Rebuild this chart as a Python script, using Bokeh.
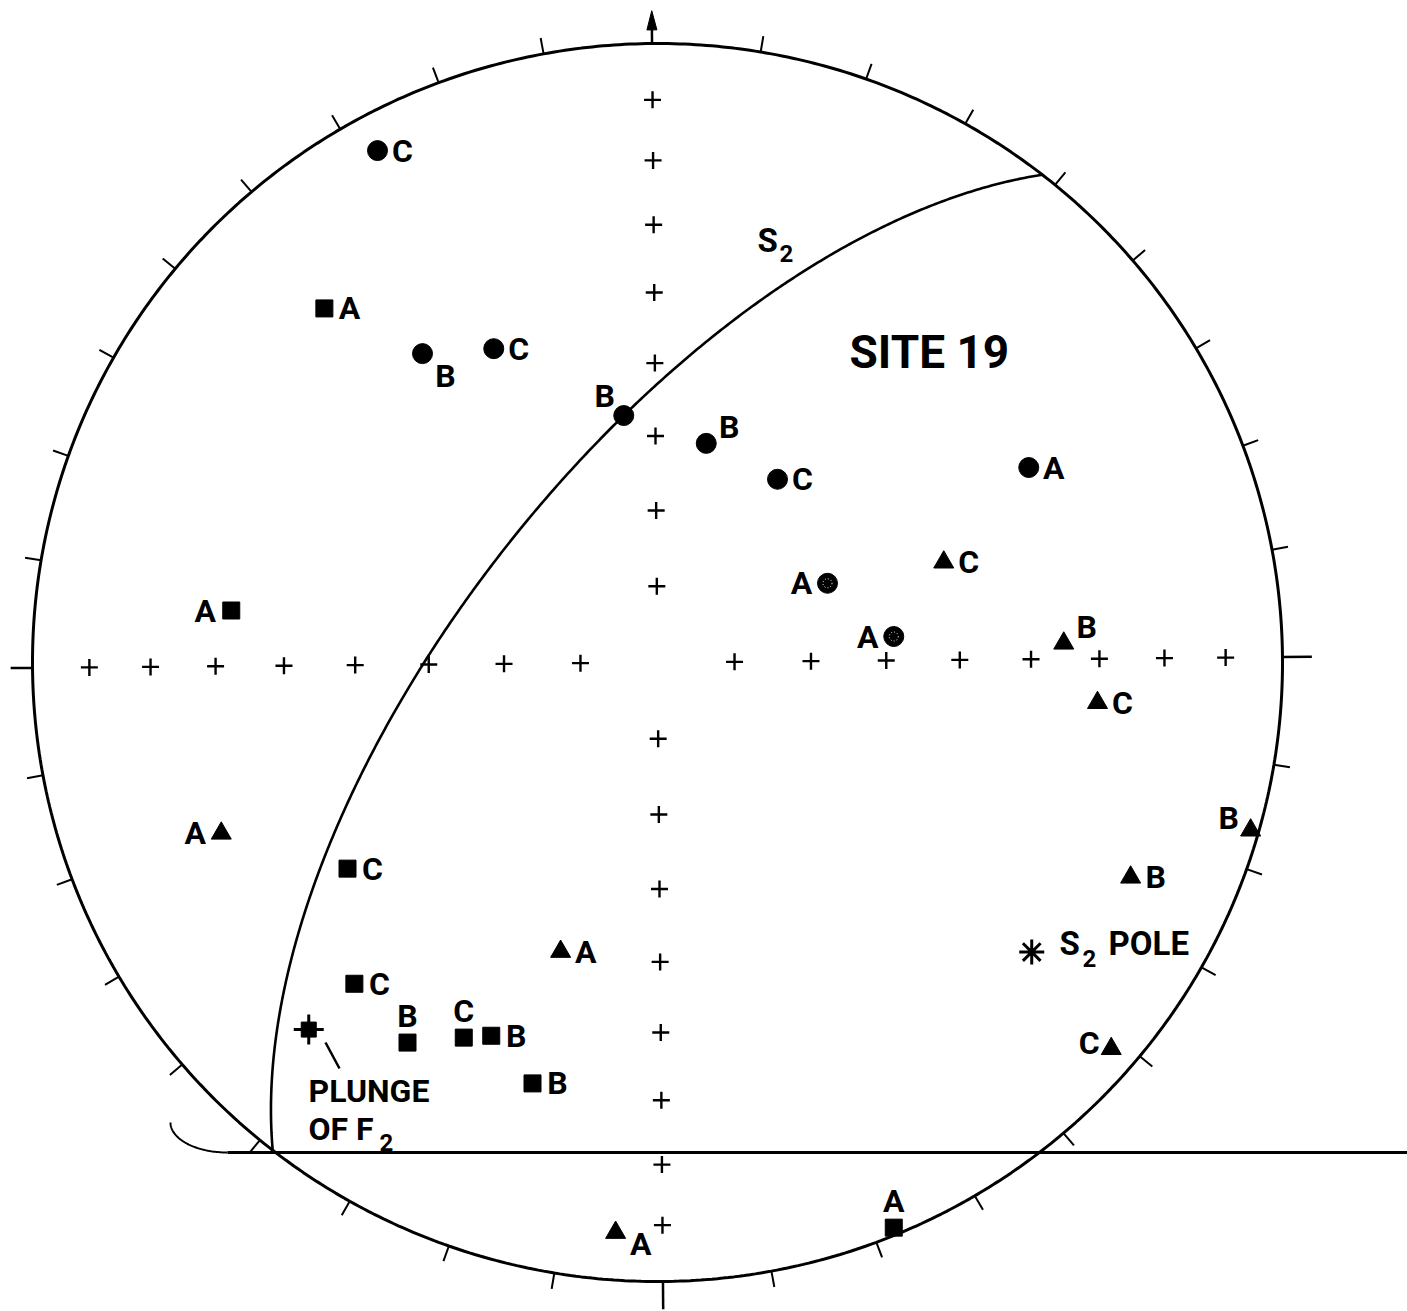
import numpy as np
from bokeh.plotting import figure
from bokeh.models import Range1d, ColumnDataSource
from bokeh.core.properties import value
from bokeh.embed import file_html
from bokeh.resources import INLINE

# ---------------- data (equal-area net coordinates, unit radius; x = east, y = north)
circle_x = [-0.448, -0.376, -0.262, -0.054, 0.078, 0.192, 0.594, 0.272, 0.378]
circle_y = [0.827, 0.499, 0.507, 0.399, 0.354, 0.296, 0.315, 0.128, 0.042]
circle_lab = ["C", "B", "C", "B", "B", "C", "A", "A", "A"]
circle_dotted = [False, False, False, False, False, False, False, True, True]

square_x = [-0.533, -0.682, -0.496, -0.485, -0.400, -0.310, -0.266, -0.200, 0.378]
square_y = [0.572, 0.084, -0.333, -0.519, -0.614, -0.606, -0.603, -0.680, -0.913]
square_lab = ["A", "A", "C", "C", "B", "C", "B", "B", "A"]

tri_x = [0.458, 0.650, 0.704, -0.698, 0.949, 0.757, -0.155, 0.726, -0.067]
tri_y = [0.162, 0.031, -0.065, -0.276, -0.271, -0.347, -0.467, -0.624, -0.921]
tri_lab = ["C", "B", "C", "A", "B", "B", "A", "C", "A"]

# S2 plane (dip direction / dip, degrees) and F2 plunge point
s2_dip_dir = 308.0
s2_dip = 65.0
f2_x = [-0.558]
f2_y = [-0.593]

net_ticks_deg = list(range(10, 360, 10))
grid_theta_deg = [10, 20, 30, 40, 50, 60, 70, 80]

# ---------------- label placement (styling: pixel offsets of letter centre)
PL = {"r": (25, 0), "l": (-26, 0), "a": (0, -27), "br": (23, 22), "al": (-19, -20),
      "ar": (23, -16), "ul": (-22, -12), "br2": (25, 11), "lu": (-22, -6)}
circle_pl = ["r", "br", "r", "al", "ar", "r", "r", "l", "l"]
square_pl = ["r", "l", "r", "r", "a", "a", "r", "r", "a"]
tri_pl = ["r", "ar", "r", "l", "ul", "r", "r", "lu", "br2"]

ROT = np.radians(0.5)


def rot(x, y):
    x = np.asarray(x, float)
    y = np.asarray(y, float)
    return x * np.cos(ROT) - y * np.sin(ROT), x * np.sin(ROT) + y * np.cos(ROT)


FONT = value("Roboto")
SC_X, SC_Y = 625.0, 619.0
W, H = 1407, 1311
x0 = -657.0 / SC_X
y1 = 662.0 / SC_Y

p = figure(width=W, height=H, output_backend="svg", toolbar_location=None,
           x_range=Range1d(x0, x0 + W / SC_X), y_range=Range1d(y1 - H / SC_Y, y1),
           min_border=0, min_border_left=0, min_border_right=0,
           min_border_top=0, min_border_bottom=0)
p.axis.visible = False
p.grid.visible = False
p.outline_line_color = None
p.background_fill_color = "white"
p.border_fill_color = "white"

# primitive circle
t = np.linspace(0, 2 * np.pi, 721)
p.line(np.cos(t), np.sin(t), line_color="black", line_width=3)

# ticks every 10 degrees
for az in net_ticks_deg:
    a = np.radians(az)
    if az % 90 == 0:
        continue
    xs, ys = rot([np.sin(a) * 1.0, np.sin(a) * 1.026], [np.cos(a) * 1.0, np.cos(a) * 1.026])
    p.line(xs, ys, line_color="black", line_width=2)

# cardinal ticks
xs, ys = rot([1.0, 1.047], [0, 0])
p.line(xs, ys, line_color="black", line_width=2.5)
xs, ys = rot([-1.0, -1.035], [0, 0])
p.line(xs, ys, line_color="black", line_width=2.5)
xs, ys = rot([0, 0], [-1.0, -1.045])
p.line(xs, ys, line_color="black", line_width=2.5)
xs, ys = rot([0, 0], [1.0, 1.03])
p.line(xs, ys, line_color="black", line_width=2.5)
ax_, ay_ = rot([0, -0.008, 0.008], [1.053, 1.022, 1.022])
p.patch(ax_, ay_, fill_color="black", line_color="black", line_width=1)

# grid crosses on the N-S and E-W diameters (equal-area spacing)
gx, gy = [], []
for th in grid_theta_deg:
    r = np.sqrt(2) * np.sin(np.radians(th) / 2)
    gx += [r, -r, 0, 0]
    gy += [0, 0, r, -r]
gx, gy = rot(gx, gy)
p.scatter(gx, gy, marker="cross", size=17, line_color="black", line_width=2.4)

# S2 great circle (lower hemisphere, equal-area)
dd = np.radians(s2_dip_dir)
dp = np.radians(s2_dip)
s = dd - np.pi / 2
av = np.array([np.sin(s), np.cos(s), 0.0])
bv = np.array([np.cos(dp) * np.sin(dd), np.cos(dp) * np.cos(dd), np.sin(dp)])
tt = np.linspace(0, np.pi, 400)
v = np.outer(np.cos(tt), av) + np.outer(np.sin(tt), bv)
gcx = v[:, 0] / np.sqrt(1 + v[:, 2])
gcy = v[:, 1] / np.sqrt(1 + v[:, 2])
p.line(gcx, gcy, line_color="black", line_width=2.6)

# S2 pole
pt = dd + np.pi
pl = np.pi / 2 - dp
pv = np.array([np.cos(pl) * np.sin(pt), np.cos(pl) * np.cos(pt), np.sin(pl)])
pole_x = [pv[0] / np.sqrt(1 + pv[2])]
pole_y = [pv[1] / np.sqrt(1 + pv[2])]
p.scatter(pole_x, pole_y, marker="asterisk", size=25, line_color="black", line_width=3)

# data markers
p.scatter(circle_x, circle_y, marker="circle", size=20, fill_color="black", line_color="black")
dx_ = [x for x, d in zip(circle_x, circle_dotted) if d]
dy_ = [y for y, d in zip(circle_y, circle_dotted) if d]
p.scatter(dx_, dy_, marker="circle", size=9, fill_color=None, line_color="white",
          line_width=1, line_dash="1 2")
p.scatter(square_x, square_y, marker="square", size=17, fill_color="black", line_color="black")
p.scatter(tri_x, tri_y, marker="triangle", size=20, fill_color="black", line_color="black")

# F2 plunge marker
p.scatter(f2_x, f2_y, marker="square", size=15, fill_color="black", line_color="black")
p.scatter(f2_x, f2_y, marker="cross", size=30, line_color="black", line_width=3)


def labels(xs, ys, labs, pls):
    src = ColumnDataSource(dict(x=xs, y=ys, text=labs,
                                xo=[PL[k][0] for k in pls],
                                yo=[PL[k][1] for k in pls]))
    p.text("x", "y", text="text", source=src, x_offset="xo", y_offset="yo",
           text_font=FONT, text_font_size="32px", text_font_style="bold",
           text_align="center", text_baseline="middle", text_color="black")


labels(circle_x, circle_y, circle_lab, circle_pl)
labels(square_x, square_y, square_lab, square_pl)
labels(tri_x, tri_y, tri_lab, tri_pl)


def txt(x, y, s, size, align="left"):
    p.text([x], [y], text=[s], text_font=FONT, text_font_size=size, text_align=align,
           text_font_style="bold", text_baseline="middle", text_color="black")


def X(px):
    return (px - 657.0) / SC_X


def Y(py):
    return (662.0 - py) / SC_Y


# annotations
txt(X(849), Y(351), "SITE 19", "46px")
txt(X(757), Y(240), "S", "33px")
txt(X(779), Y(253), "2", "24px")
txt(X(1059), Y(943), "S", "33px")
txt(X(1082), Y(958), "2", "24px")
txt(X(1108), Y(943), "POLE", "33px")
txt(X(308), Y(1090), "PLUNGE", "32px")
txt(X(308), Y(1128), "OF F", "32px")
txt(X(379), Y(1142), "2", "24px")

# leader from F2 marker to its label
p.line([X(325), X(339)], [Y(1042), Y(1068)], line_color="black", line_width=2.5)

# bottom rule with hook
p.line([X(227), X(1420)], [Y(1152), Y(1152)], line_color="black", line_width=3)
hk = np.linspace(np.pi, 1.5 * np.pi, 60)
p.line(X(227) + (57 / SC_X) * np.cos(hk), Y(1122) + (30 / SC_Y) * np.sin(hk),
       line_color="black", line_width=2)

open("out.html", "w").write(file_html(p, INLINE))
